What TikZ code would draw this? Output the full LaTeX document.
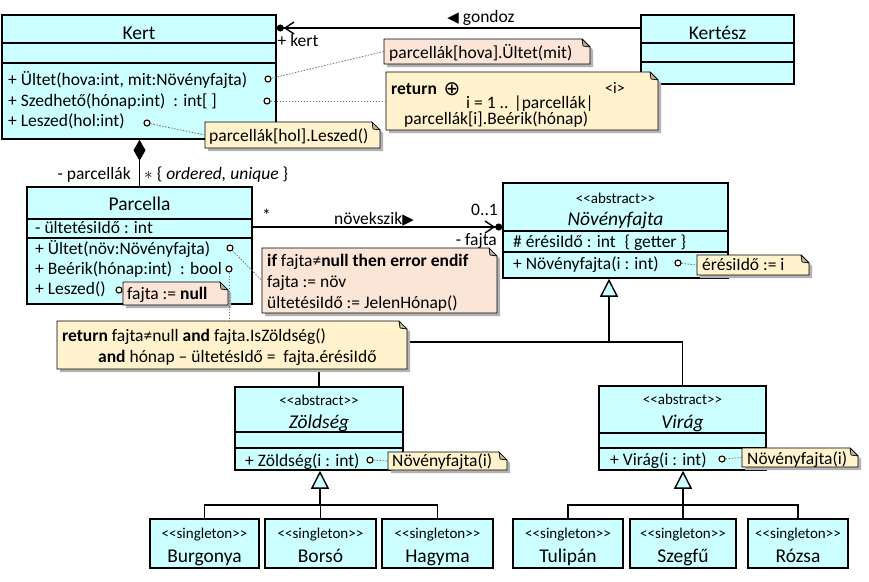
\documentclass[tikz,border=0pt]{standalone}
\usepackage{fontspec}
\setmainfont{Carlito}
\newfontfamily\symfont{DejaVu Sans}
\usetikzlibrary{arrows.meta,fit}

\definecolor{clsfill}{HTML}{CCFFFF}
\definecolor{notepink}{HTML}{FBE5D6}
\definecolor{noteyellow}{HTML}{FFF2CC}

\tikzset{
  classbox/.style={draw=black, fill=clsfill, line width=1.5pt, inner sep=0pt},
  sepline/.style={line width=1.5pt},
  txt/.style={inner sep=0pt, anchor=base west, font=\fontsize{17.5}{21}\selectfont},
  ctitle/.style={inner sep=0pt, anchor=base, font=\fontsize{19.5}{23}\selectfont},
  stereo/.style={inner sep=0pt, anchor=base, font=\fontsize{15}{18}\selectfont},
  port/.style={circle, draw=black, line width=1.1pt, fill=yellow!15, inner sep=0pt, minimum size=6pt},
  noteline/.style={draw=black!55, line width=0.8pt, dash pattern=on 1.5pt off 1.5pt},
  wire/.style={draw=black, line width=1.4pt},
  gentip/.style={wire, -{Triangle[length=18pt, width=18pt, fill=clsfill]}},
  owntip/.style={wire, -{Straight Barb[length=9pt, width=12pt] Circle[length=7pt]}},
  comptip/.style={wire, -{Diamond[length=21pt, width=12pt]}},
  notebody/.style={draw=black, line width=0.7pt},
  noteshadow/.style={fill=black!30},
}

% class rectangle as a named node fitted to its corners
\newcommand{\umlclass}[5]{\node[classbox, fit={(#2,#3) (#4,#5)}] (#1) {};}
% compartment separator of a class at height #2
\newcommand{\csep}[2]{\draw[sepline] (#1.west |- 0,#2) -- (#1.east |- 0,#2);}
% note with folded corner and drop shadow
\newcommand{\umlnote}[6]{%
  \fill[noteshadow, xshift=3pt, yshift=-3pt] (#2,#3) -- (#4-8,#3) -- (#4,#3+8) -- (#4,#5) -- (#2,#5) -- cycle;
  \filldraw[notebody, fill=#6] (#2,#3) -- (#4-8,#3) -- (#4,#3+8) -- (#4,#5) -- (#2,#5) -- cycle;
  \filldraw[notebody, fill=#6!75!black, line join=round] (#4-8,#3) -- (#4-7,#3+7) -- (#4,#3+8) -- cycle;
  \node[fit={(#2,#3) (#4,#5)}, inner sep=0pt] (#1) {};}
% singleton leaf class
\newcommand{\singlecls}[4]{%
  \umlclass{#1}{#2}{519}{#3}{568}
  \node[stereo] at (#1.center |- 0,538) {<\kern0pt<singleton>\kern0pt>};
  \node[ctitle] at (#1.center |- 0,562) {#4};}

\begin{document}
\begin{tikzpicture}[x=1pt, y=-1pt]
\fill[white] (0,0) rectangle (869,581);
\useasboundingbox (0,0) rectangle (869,581);

% ---------- Kert ----------
\umlclass{kert}{2}{15}{276}{139}
\csep{kert}{43} \csep{kert}{63}
\node[ctitle] (kertT) at (139,39) {Kert};
\node[txt] (k1) at (8,85) {+ Ültet(hova:int, mit:Növényfajta)};
\node[txt] (k2) at (8,106) {+ Szedhető(hónap:int)\ \ : int[ ]};
\node[txt] (k3) at (8,126) {+ Leszed(hol:int)};

% ---------- Kertész ----------
\umlclass{kertesz}{641}{15}{794}{84}
\csep{kertesz}{43} \csep{kertesz}{62}
\node[ctitle] (kerteszT) at (717.5,39) {Kertész};

% ---------- Parcella ----------
\umlclass{parcella}{27}{187}{252}{304}
\csep{parcella}{219} \csep{parcella}{238}
\node[ctitle] (parcT) at (139.5,210) {Parcella};
\node[txt] (pa1) at (35,233) {- ültetésiIdő : int};
\node[txt] (pm1) at (35,254) {+ Ültet(növ:Növényfajta)};
\node[txt] (pm2) at (35,274) {+ Beérik(hónap:int)\ \ : bool};
\node[txt] (pm3) at (35,294) {+ Leszed()};

% ---------- Növényfajta ----------
\umlclass{nov}{503}{183}{728}{278}
\csep{nov}{231} \csep{nov}{252}
\node[stereo] (novS) at (615.5,203) {<\kern0pt<abstract>\kern0pt>};
\node[ctitle, font=\fontsize{19.5}{23}\selectfont\itshape] (novT) at (615.5,225) {Növényfajta};
\node[txt] (na1) at (513,247) {\# érésiIdő : int\hspace{9pt}\{ getter \}};
\node[txt] (nm1) at (513,269) {+ Növényfajta(i : int)};

% ---------- Zöldség ----------
\umlclass{zold}{235}{387}{403}{470}
\csep{zold}{432} \csep{zold}{448}
\node[stereo] (zoldS) at (319,405) {<\kern0pt<abstract>\kern0pt>};
\node[ctitle, font=\fontsize{19.5}{23}\selectfont\itshape] (zoldT) at (319,428) {Zöldség};
\node[txt] (zm1) at (245,466) {+ Zöldség(i : int)};

% ---------- Virág ----------
\umlclass{virag}{599}{386}{766}{470}
\csep{virag}{433} \csep{virag}{448}
\node[stereo] (viragS) at (682.5,404) {<\kern0pt<abstract>\kern0pt>};
\node[ctitle, font=\fontsize{19.5}{23}\selectfont\itshape] (viragT) at (682.5,428) {Virág};
\node[txt] (vm1) at (610,465) {+ Virág(i : int)};

% ---------- singletons ----------
\singlecls{burg}{150}{259}{Burgonya}
\singlecls{bors}{265}{376}{Borsó}
\singlecls{hagy}{382}{493}{Hagyma}
\singlecls{tuli}{513}{623}{Tulipán}
\singlecls{szeg}{630}{736}{Szegfű}
\singlecls{rozsa}{748}{848}{Rózsa}

% ---------- associations ----------
\draw[owntip] (kertesz.west |- 0,28) -- (kert.east |- 0,28);
\node[txt, anchor=base] (gondozL) at (481,22) {{\symfont\fontsize{15}{17}\selectfont ◀} gondoz};
\node[txt, anchor=base] (kertL) at (298,46) {+ kert};

\draw[comptip] (parcella.north) -- (parcella.north |- kert.south);
\node[txt, anchor=base east] (parcL) at (131,179) {- parcellák};
\node[txt] (ordL) at (144,179) {$\ast$ \{ \textit{ordered, unique} \}};

\draw[owntip] (parcella.east |- 0,227) -- (nov.west |- 0,227);
\node[txt] (starL) at (262,221) {*};
\node[txt, anchor=base] (novekL) at (374,224) {növekszik{\symfont\fontsize{15}{17}\selectfont ▶}};
\node[txt, anchor=base east] (multL) at (498,215) {0..1};
\node[txt, anchor=base east] (fajtaL) at (497,245) {- fajta};

% ---------- generalizations ----------
\coordinate (busA) at (609,342);
\draw[gentip] (busA) -- (busA |- nov.south);
\draw[wire] (zold.north) |- (virag.north |- busA) -- (virag.north);

\coordinate (busB) at (320,505);
\draw[gentip] (busB) -- (busB |- zold.south);
\draw[wire] (burg.north) |- (hagy.north |- busB) -- (hagy.north);
\draw[wire] (bors.north) -- (bors.north |- busB);

\coordinate (busC) at (683,505);
\draw[gentip] (busC) -- (busC |- virag.south);
\draw[wire] (tuli.north) |- (rozsa.north |- busC) -- (rozsa.north);
\draw[wire] (szeg.north) -- (szeg.north |- busC);

% ---------- notes ----------
\umlnote{n1}{384}{39}{590}{64}{notepink}
\node[txt] (n1t) at (389,58) {parcellák[hova].Ültet(mit)};

\umlnote{n2}{386}{72}{658}{130}{noteyellow}
\node[txt] (n2a) at (391,94) {\textbf{return}};
\node[inner sep=0pt, anchor=base] (n2op) at (452,95) {\symfont\fontsize{20}{22}\selectfont ⊕};
\node[txt, anchor=base, font=\fontsize{16}{19}\selectfont] (n2i) at (615,93) {<i>};
\node[txt, anchor=base] (n2b) at (530,108) {i = 1 .. |parcellák|};
\node[txt] (n2c) at (404,124) {parcellák[i].Beérik(hónap)};

\umlnote{n3}{205}{122}{380}{148}{noteyellow}
\node[txt] (n3t) at (209,141) {parcellák[hol].Leszed()};

\umlnote{n5}{262}{248}{497}{313}{notepink}
\node[txt] (n5a) at (267,266) {\textbf{if} fajta≠\textbf{null then error endif}};
\node[txt] (n5b) at (267,287) {fajta := növ};
\node[txt] (n5c) at (267,308) {ültetésiIdő := JelenHónap()};

\umlnote{nL}{123}{282}{228}{305}{notepink}
\node[txt] (nLt) at (127,299) {fajta := \textbf{null}};

\umlnote{n4}{57}{321}{407}{369}{noteyellow}
\node[txt] (n4a) at (62,341) {\textbf{return} fajta≠null \textbf{and} fajta.IsZöldség()};
\node[txt] (n4b) at (98,362) {\textbf{and} hónap – ültetésIdő =\ \ fajta.érésiIdő};

\umlnote{n6}{697}{255}{809}{275}{noteyellow}
\node[txt] (n6t) at (702,270) {érésiIdő := i};

\umlnote{n7}{388}{452}{507}{470}{noteyellow}
\node[txt] (n7t) at (392,466) {Növényfajta(i)};

\umlnote{n8}{742}{448}{858}{467}{noteyellow}
\node[txt] (n8t) at (747,464) {Növényfajta(i)};

% ---------- operation ports and note links ----------
\node[port] (kp1) at (268,79) {};
\node[port] (kp2) at (267,101) {};
\node[port] (kp3) at (147,123) {};
\node[port] (pp1) at (230,248) {};
\node[port] (pp2) at (229,269) {};
\node[port] (pp3) at (119,290) {};
\node[port] (np) at (678,263) {};
\node[port] (zp) at (370,460) {};
\node[port] (vp) at (722,459) {};

\draw[noteline] (kp1) -- (n1.west);
\draw[noteline] (kp2) -- (n2.west |- kp2);
\draw[noteline] (kp3) -- (n3.west);
\draw[noteline] (pp1) -- (n5.west);
\draw[noteline] (pp2) -- (pp2 |- n4.north);
\draw[noteline] (pp3) -- (nL.west);
\draw[noteline] (np) -- (n6.west);
\draw[noteline] (zp) -- (n7.west);
\draw[noteline] (vp) -- (n8.west);
\end{tikzpicture}
\end{document}
